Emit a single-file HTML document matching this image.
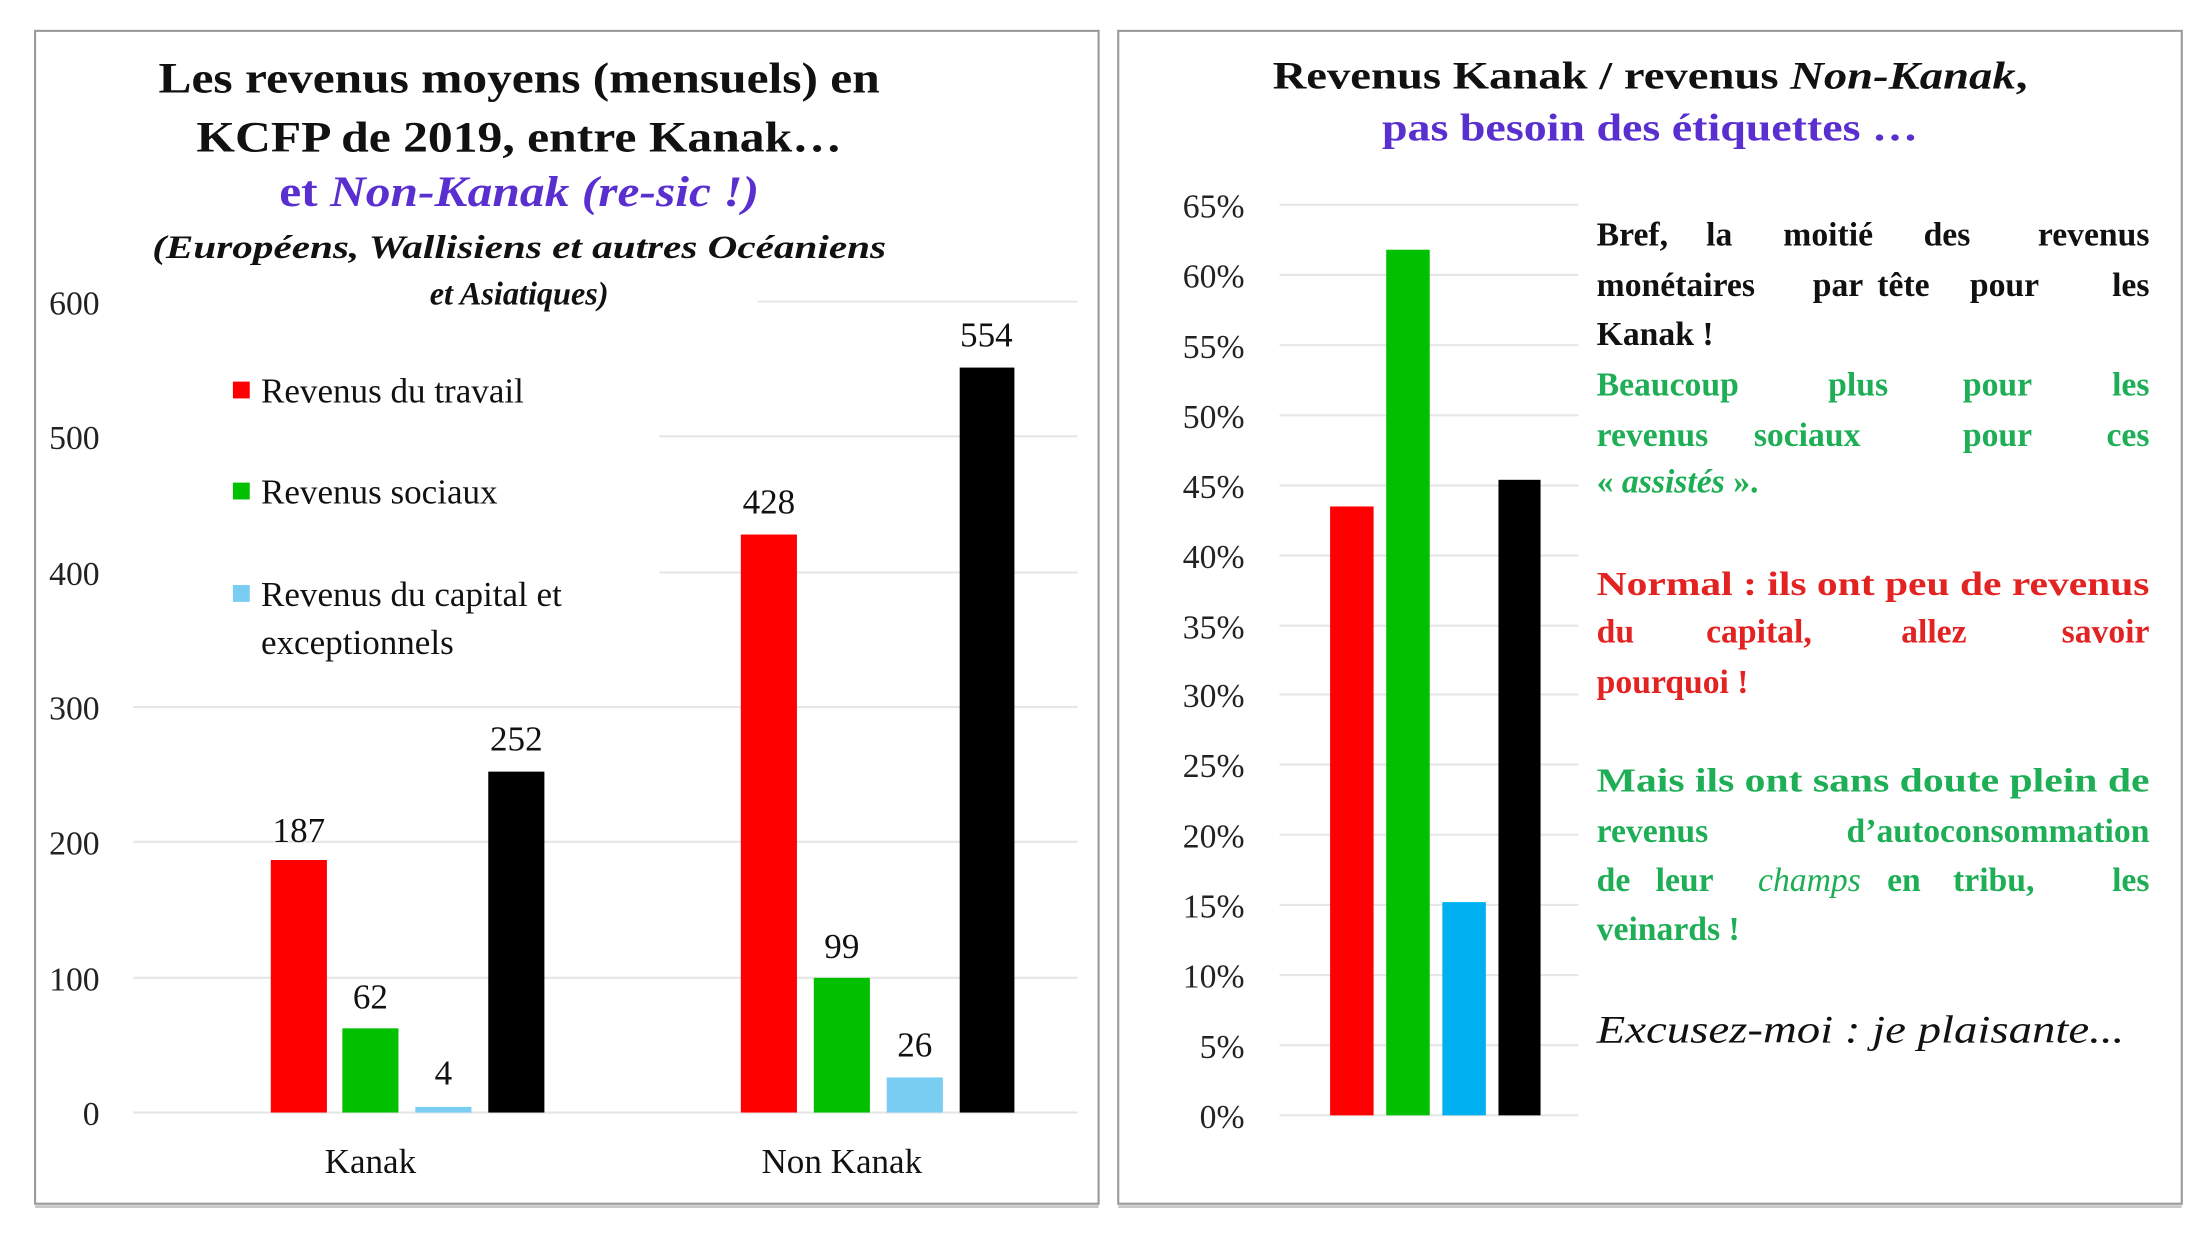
<!DOCTYPE html>
<html><head><meta charset="utf-8">
<style>
html,body{margin:0;padding:0;background:#fff;}
svg{display:block;}
text{font-family:"Liberation Serif",serif;}
</style></head>
<body>
<svg width="2200" height="1236" viewBox="0 0 1568 881" preserveAspectRatio="none" xmlns="http://www.w3.org/2000/svg">
<rect x="0" y="0" width="1568" height="881" fill="#fff"/>
<!-- panels -->
<rect x="25" y="22" width="758" height="836" fill="#fff" stroke="#9a9a9a" stroke-width="1.5"/>
<rect x="797" y="22" width="758" height="836" fill="#fff" stroke="#9a9a9a" stroke-width="1.5"/>
<line x1="25" y1="860" x2="783" y2="860" stroke="#c8c8c8" stroke-width="2"/>
<line x1="797" y1="860" x2="1555" y2="860" stroke="#c8c8c8" stroke-width="2"/>

<!-- LEFT chart -->
<g stroke="#e6e6e6" stroke-width="1.5">
<line x1="95" y1="793" x2="768" y2="793"/>
<line x1="95" y1="697" x2="768" y2="697"/>
<line x1="95" y1="600" x2="768" y2="600"/>
<line x1="95" y1="504" x2="768" y2="504"/>
<line x1="470" y1="408" x2="768" y2="408"/>
<line x1="470" y1="311" x2="768" y2="311"/>
<line x1="540" y1="215" x2="768" y2="215"/>
</g>
<g font-size="24" fill="#222" text-anchor="end">
<text x="71" y="802">0</text>
<text x="71" y="706">100</text>
<text x="71" y="609">200</text>
<text x="71" y="513">300</text>
<text x="71" y="417">400</text>
<text x="71" y="320">500</text>
<text x="71" y="224">600</text>
</g>
<!-- bars -->
<rect x="193" y="613" width="40" height="180" fill="#ff0000"/>
<rect x="244" y="733" width="40" height="60" fill="#00c000"/>
<rect x="296" y="789" width="40" height="4" fill="#79cdf2"/>
<rect x="348" y="550" width="40" height="243" fill="#000"/>
<rect x="528" y="381" width="40" height="412" fill="#ff0000"/>
<rect x="580" y="697" width="40" height="96" fill="#00c000"/>
<rect x="632" y="768" width="40" height="25" fill="#79cdf2"/>
<rect x="684" y="262" width="39" height="531" fill="#000"/>
<g font-size="25" fill="#111" text-anchor="middle">
<text x="213" y="600">187</text>
<text x="264" y="719">62</text>
<text x="316" y="773">4</text>
<text x="368" y="535">252</text>
<text x="548" y="366">428</text>
<text x="600" y="683">99</text>
<text x="652" y="753">26</text>
<text x="703" y="247">554</text>
<text x="264" y="836">Kanak</text>
<text x="600" y="836">Non Kanak</text>
</g>
<!-- legend -->
<rect x="166" y="272" width="12" height="12" fill="#ff0000"/>
<rect x="166" y="344" width="12" height="12" fill="#00c000"/>
<rect x="166" y="417" width="12" height="12" fill="#79cdf2"/>
<g font-size="25" fill="#111">
<text x="186" y="287">Revenus du travail</text>
<text x="186" y="359">Revenus sociaux</text>
<text x="186" y="432">Revenus du capital et</text>
<text x="186" y="466">exceptionnels</text>
</g>
<!-- left title -->
<g text-anchor="middle" font-weight="bold" fill="#111">
<text x="370" y="66" font-size="31" textLength="514" lengthAdjust="spacingAndGlyphs">Les revenus moyens (mensuels) en</text>
<text x="370" y="108" font-size="31" textLength="460" lengthAdjust="spacingAndGlyphs">KCFP de 2019, entre Kanak…</text>
<text x="370" y="147" font-size="31" fill="#5a2fd0" textLength="342" lengthAdjust="spacingAndGlyphs">et <tspan font-style="italic">Non-Kanak (re-sic !)</tspan></text>
<text x="370" y="184" font-size="23" font-style="italic" textLength="523" lengthAdjust="spacingAndGlyphs">(Européens, Wallisiens et autres Océaniens</text>
<text x="370" y="217" font-size="23" font-style="italic">et Asiatiques)</text>
</g>

<!-- RIGHT chart -->
<g stroke="#e6e6e6" stroke-width="1.5">
<line x1="912" y1="795" x2="1125" y2="795"/>
<line x1="912" y1="745" x2="1125" y2="745"/>
<line x1="912" y1="695" x2="1125" y2="695"/>
<line x1="912" y1="645" x2="1125" y2="645"/>
<line x1="912" y1="595" x2="1125" y2="595"/>
<line x1="912" y1="545" x2="1125" y2="545"/>
<line x1="912" y1="495" x2="1125" y2="495"/>
<line x1="912" y1="446" x2="1125" y2="446"/>
<line x1="912" y1="396" x2="1125" y2="396"/>
<line x1="912" y1="346" x2="1125" y2="346"/>
<line x1="912" y1="296" x2="1125" y2="296"/>
<line x1="912" y1="246" x2="1125" y2="246"/>
<line x1="912" y1="196" x2="1125" y2="196"/>
<line x1="912" y1="146" x2="1125" y2="146"/>
</g>
<g font-size="24" fill="#222" text-anchor="end">
<text x="887" y="804">0%</text>
<text x="887" y="754">5%</text>
<text x="887" y="704">10%</text>
<text x="887" y="654">15%</text>
<text x="887" y="604">20%</text>
<text x="887" y="554">25%</text>
<text x="887" y="504">30%</text>
<text x="887" y="455">35%</text>
<text x="887" y="405">40%</text>
<text x="887" y="355">45%</text>
<text x="887" y="305">50%</text>
<text x="887" y="255">55%</text>
<text x="887" y="205">60%</text>
<text x="887" y="155">65%</text>
</g>
<rect x="948" y="361" width="31" height="434" fill="#ff0000"/>
<rect x="988" y="178" width="31" height="617" fill="#00c000"/>
<rect x="1028" y="643" width="31" height="152" fill="#00b0f0"/>
<rect x="1068" y="342" width="30" height="453" fill="#000"/>
<!-- right title -->
<g text-anchor="middle" font-weight="bold">
<text x="1176" y="63" font-size="28" fill="#111" textLength="538" lengthAdjust="spacingAndGlyphs">Revenus Kanak  / revenus <tspan font-style="italic">Non-Kanak</tspan>,</text>
<text x="1176" y="100" font-size="28" fill="#5a2fd0" textLength="382" lengthAdjust="spacingAndGlyphs">pas besoin des étiquettes …</text>
</g>
<!-- text block -->
<g font-size="24" font-weight="bold">
<g fill="#111">
<text x="1138" y="175">Bref,</text><text x="1216" y="175">la</text><text x="1271" y="175">moitié</text><text x="1371" y="175">des</text><text x="1532" y="175" text-anchor="end">revenus</text>
<text x="1138" y="211">monétaires</text><text x="1292" y="211">par</text><text x="1338" y="211">tête</text><text x="1404" y="211">pour</text><text x="1532" y="211" text-anchor="end">les</text>
<text x="1138" y="246">Kanak !</text>
</g>
<g fill="#1eae55">
<text x="1138" y="282">Beaucoup</text><text x="1303" y="282">plus</text><text x="1399" y="282">pour</text><text x="1532" y="282" text-anchor="end">les</text>
<text x="1138" y="318">revenus</text><text x="1250" y="318">sociaux</text><text x="1399" y="318">pour</text><text x="1532" y="318" text-anchor="end">ces</text>
<text x="1138" y="351">« <tspan font-style="italic">assistés</tspan> ».</text>
</g>
<g fill="#e32222">
<text x="1138" y="424" textLength="394" lengthAdjust="spacingAndGlyphs">Normal : ils ont peu de revenus</text>
<text x="1138" y="458">du</text><text x="1216" y="458">capital,</text><text x="1355" y="458">allez</text><text x="1532" y="458" text-anchor="end">savoir</text>
<text x="1138" y="494">pourquoi !</text>
</g>
<g fill="#1eae55">
<text x="1138" y="564" textLength="394" lengthAdjust="spacingAndGlyphs">Mais ils ont sans doute plein de</text>
<text x="1138" y="600">revenus</text><text x="1532" y="600" text-anchor="end">d’autoconsommation</text>
<text x="1138" y="635">de</text><text x="1180" y="635">leur</text><text x="1253" y="635" font-style="italic" font-weight="normal">champs</text><text x="1345" y="635">en</text><text x="1392" y="635">tribu,</text><text x="1532" y="635" text-anchor="end">les</text>
<text x="1138" y="670">veinards !</text>
</g>
<text x="1138" y="743" font-size="28" font-style="italic" font-weight="normal" fill="#111" textLength="376" lengthAdjust="spacingAndGlyphs">Excusez-moi : je plaisante...</text>
</g>
</svg>
</body></html>
